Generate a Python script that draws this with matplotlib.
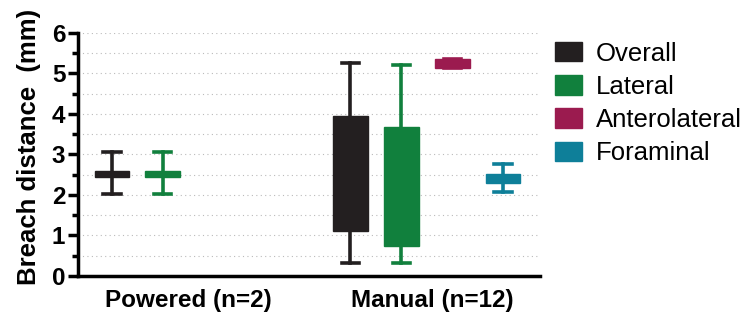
import matplotlib
matplotlib.use("Agg")
from matplotlib import pyplot as plt
from matplotlib.patches import Patch

plt.rcParams['font.family'] = ['Liberation Sans', 'DejaVu Sans']

groups = ["Powered (n=2)", "Manual (n=12)"]
series = ["Overall", "Lateral", "Anterolateral", "Foraminal"]
colors = ["#231f20", "#11803d", "#9b1b4f", "#0e7f99"]

# box stats per group / series: (whislo, q1, med, q3, whishi); None = no data
powered = [(2.03, 2.45, 2.53, 2.6, 3.05),
           (2.03, 2.45, 2.53, 2.6, 3.05),
           None,
           None]
manual = [(0.32, 1.12, 2.5, 3.95, 5.27),
          (0.32, 0.74, 2.33, 3.68, 5.21),
          (5.14, 5.14, 5.25, 5.36, 5.36),
          (2.08, 2.3, 2.4, 2.52, 2.77)]
data = [powered, manual]

fig = plt.figure(figsize=(7.56, 3.2), dpi=100)
ax = fig.add_axes([0.103, 0.1375, 0.611, 0.7595])

offs = [-0.32, -0.107, 0.107, 0.32]
for g, grp in enumerate(data):
    for i, st in enumerate(grp):
        if st is None:
            continue
        lo, q1, med, q3, hi = st
        c = colors[i]
        ax.bxp([dict(whislo=lo, q1=q1, med=med, q3=q3, whishi=hi, fliers=[])],
               positions=[g + offs[i]], widths=0.145, patch_artist=True,
               showfliers=False, manage_ticks=False,
               boxprops=dict(facecolor=c, edgecolor=c, linewidth=1),
               medianprops=dict(color=c, linewidth=1),
               whiskerprops=dict(color=c, linewidth=2.6),
               capprops=dict(color=c, linewidth=2.6),
               capwidths=0.072)

ax.set_xlim(-0.463, 1.474)
ax.set_ylim(0, 6)
ax.set_yticks(range(7))
ax.set_yticks([k + 0.5 for k in range(6)], minor=True)
ax.set_xticks([0, 1.025])
ax.set_xticklabels(groups, fontsize=17.5, fontweight='bold')
ax.set_yticklabels([str(k) for k in range(7)], fontsize=17.5, fontweight='bold')
ax.set_ylabel("Breach distance  (mm)", fontsize=18.5, fontweight='bold')
ax.yaxis.set_label_coords(-0.08, 0.53)

for k in range(1, 13):
    ax.axhline(k * 0.5, color='#bbbbbb', linestyle=(0, (1, 3)), linewidth=0.8, zorder=0)

ax.spines['top'].set_visible(False)
ax.spines['right'].set_visible(False)
ax.spines['left'].set_linewidth(2.5)
ax.spines['bottom'].set_linewidth(2.5)
ax.tick_params(axis='y', which='major', width=2.5, length=7, pad=2)
ax.tick_params(axis='y', which='minor', width=2.5, length=4)
ax.tick_params(axis='x', length=0, pad=9)

handles = [Patch(facecolor=c, edgecolor=c) for c in colors]
fig.legend(handles, series, loc='upper left', bbox_to_anchor=(0.734, 0.87),
           frameon=False, fontsize=18.5, handlelength=1.04, handleheight=0.8,
           labelspacing=0.36, handletextpad=0.55, borderpad=0, borderaxespad=0)

fig.savefig("out.png", dpi=100)
